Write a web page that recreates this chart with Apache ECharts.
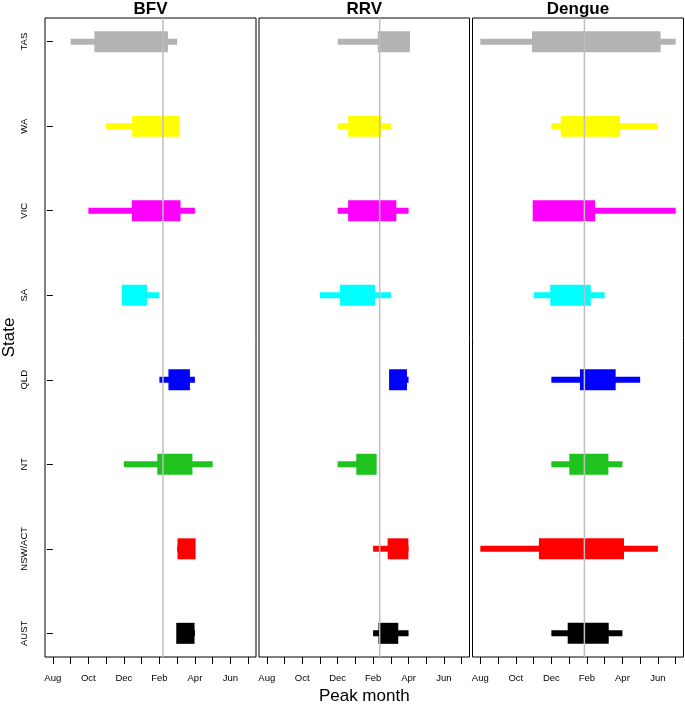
<!DOCTYPE html>
<html><head><meta charset="utf-8">
<script src="https://cdn.jsdelivr.net/npm/echarts@6/dist/echarts.min.js"></script>
<style>html,body{margin:0;padding:0;background:#fff}#c{width:685px;height:705px}</style>
</head><body><div id="c"></div>
<script>
// states from bottom (position 1) to top (position 8)
const states = ['AUST', 'NSW/ACT', 'NT', 'QLD', 'SA', 'VIC', 'WA', 'TAS'];
const stateColors = ['#000000', '#ff0000', '#1ec31e', '#0000ff', '#00ffff', '#ff00ff', '#ffff00', '#b3b3b3'];
// months counted from Aug = 0
const monthTicks = [0, 1, 2, 3, 4, 5, 6, 7, 8, 9, 10, 11];
const monthLabelTicks = [0, 2, 4, 6, 8, 10];
const monthNames = ['Aug', 'Sep', 'Oct', 'Nov', 'Dec', 'Jan', 'Feb', 'Mar', 'Apr', 'May', 'Jun', 'Jul'];
const panelNames = ['BFV', 'RRV', 'Dengue'];

// BFV
const bfvThinLo  = [7, 7, 4, 6, 4, 2, 3, 1];
const bfvThinHi  = [8, 8, 9, 8, 6, 8, 7, 7];
const bfvThickLo = [6.95, 7.02, 5.88, 6.51, 3.89, 4.45, 4.47, 2.34];
const bfvThickHi = [7.98, 8.04, 7.86, 7.72, 5.30, 7.19, 7.15, 6.48];
// RRV
const rrvThinLo  = [6, 6, 4, 7, 3, 4, 4, 4];
const rrvThinHi  = [8, 8, 6, 8, 7, 8, 7, 8];
const rrvThickLo = [6.30, 6.82, 5.05, 6.90, 4.13, 4.59, 4.59, 6.26];
const rrvThickHi = [7.42, 7.99, 6.20, 7.91, 6.11, 7.31, 6.49, 8.08];
// Dengue
const denThinLo  = [4, 0, 4, 4, 3, 3, 4, 0];
const denThinHi  = [8, 10, 8, 9, 7, 11, 10, 11];
const denThickLo = [4.92, 3.30, 5.01, 5.61, 3.94, 2.95, 4.53, 2.91];
const denThickHi = [7.23, 8.09, 7.21, 7.62, 6.22, 6.46, 7.87, 10.15];

// overall median peak month reference line per panel
const refLines = [6.20, 6.37, 5.86];

const thinLo = [bfvThinLo, rrvThinLo, denThinLo];
const thinHi = [bfvThinHi, rrvThinHi, denThinHi];
const thickLo = [bfvThickLo, rrvThickLo, denThickLo];
const thickHi = [bfvThickHi, rrvThickHi, denThickHi];

const X_MIN = -0.44, X_MAX = 11.44, Y_MIN = 0.72, Y_MAX = 8.28;
const gridLefts = [45, 259, 472.5];
const gridWidths = [211, 210.5, 211];
const FONT = 'Liberation Sans, Arial, Helvetica, sans-serif';

function makeRender(h) {
  return function (params, api) {
    const y = api.value(0);
    const p1 = api.coord([api.value(1), y]);
    const p2 = api.coord([api.value(2), y]);
    return {
      type: 'rect',
      shape: { x: p1[0], y: p1[1] - h / 2, width: p2[0] - p1[0], height: h },
      style: { fill: stateColors[params.dataIndex] }
    };
  };
}

const grids = [], xAxes = [], yAxes = [], series = [];
for (let i = 0; i < 3; i++) {
  grids.push({ left: gridLefts[i], top: 18, width: gridWidths[i], height: 639, show: true,
    outerBoundsMode: 'none', containLabel: false,
    borderColor: '#000', borderWidth: 1, backgroundColor: 'transparent' });
  xAxes.push({
    type: 'value', gridIndex: i, min: X_MIN, max: X_MAX, position: 'bottom',
    axisLine: { show: false }, splitLine: { show: false },
    axisTick: { show: true, length: 7, customValues: monthTicks, lineStyle: { color: '#000', width: 1 } },
    axisLabel: { show: true, customValues: monthLabelTicks, formatter: v => monthNames[Math.round(v)],
      fontSize: 9.5, color: '#000', margin: 16, fontFamily: FONT },
    name: i === 1 ? 'Peak month' : '', nameLocation: 'middle', nameGap: 29,
    nameTextStyle: { fontSize: 17, color: '#000', fontFamily: FONT }
  });
  yAxes.push({
    type: 'value', gridIndex: i, min: Y_MIN, max: Y_MAX,
    axisLine: { show: false }, splitLine: { show: false },
    axisTick: { show: i === 0, length: 6, customValues: [1, 2, 3, 4, 5, 6, 7, 8], lineStyle: { color: '#000' } },
    axisLabel: { show: i === 0, customValues: [1, 2, 3, 4, 5, 6, 7, 8], formatter: v => states[Math.round(v) - 1],
      rotate: 90, fontSize: 9.5, color: '#000', margin: 16, fontFamily: FONT },
    name: i === 0 ? 'State' : '', nameLocation: 'middle', nameGap: 27, nameRotate: 90,
    nameTextStyle: { fontSize: 17, color: '#000', fontFamily: FONT }
  });
  series.push({
    type: 'custom', xAxisIndex: i, yAxisIndex: i, renderItem: makeRender(6), z: 2,
    encode: { x: [1, 2], y: 0 },
    data: states.map((s, k) => [k + 1, thinLo[i][k], thinHi[i][k]])
  });
  series.push({
    type: 'custom', xAxisIndex: i, yAxisIndex: i, renderItem: makeRender(21), z: 3,
    encode: { x: [1, 2], y: 0 },
    data: states.map((s, k) => [k + 1, thickLo[i][k], thickHi[i][k]])
  });
  series.push({
    type: 'line', xAxisIndex: i, yAxisIndex: i, z: 5, symbol: 'none', silent: true,
    lineStyle: { color: '#bebebe', width: 1.5 },
    data: [[refLines[i], Y_MIN], [refLines[i], Y_MAX]]
  });
}

const graphic = panelNames.map((n, i) => ({
  type: 'text', x: gridLefts[i] + gridWidths[i] / 2, y: 9,
  style: { text: n, fill: '#000', font: 'bold 17px ' + FONT, textAlign: 'center', textVerticalAlign: 'middle' }
}));

const chart = echarts.init(document.getElementById('c'), null, { renderer: 'canvas' });
chart.setOption({
  animation: false,
  backgroundColor: '#fff',
  grid: grids, xAxis: xAxes, yAxis: yAxes, series: series, graphic: graphic
});
</script>
</body></html>
